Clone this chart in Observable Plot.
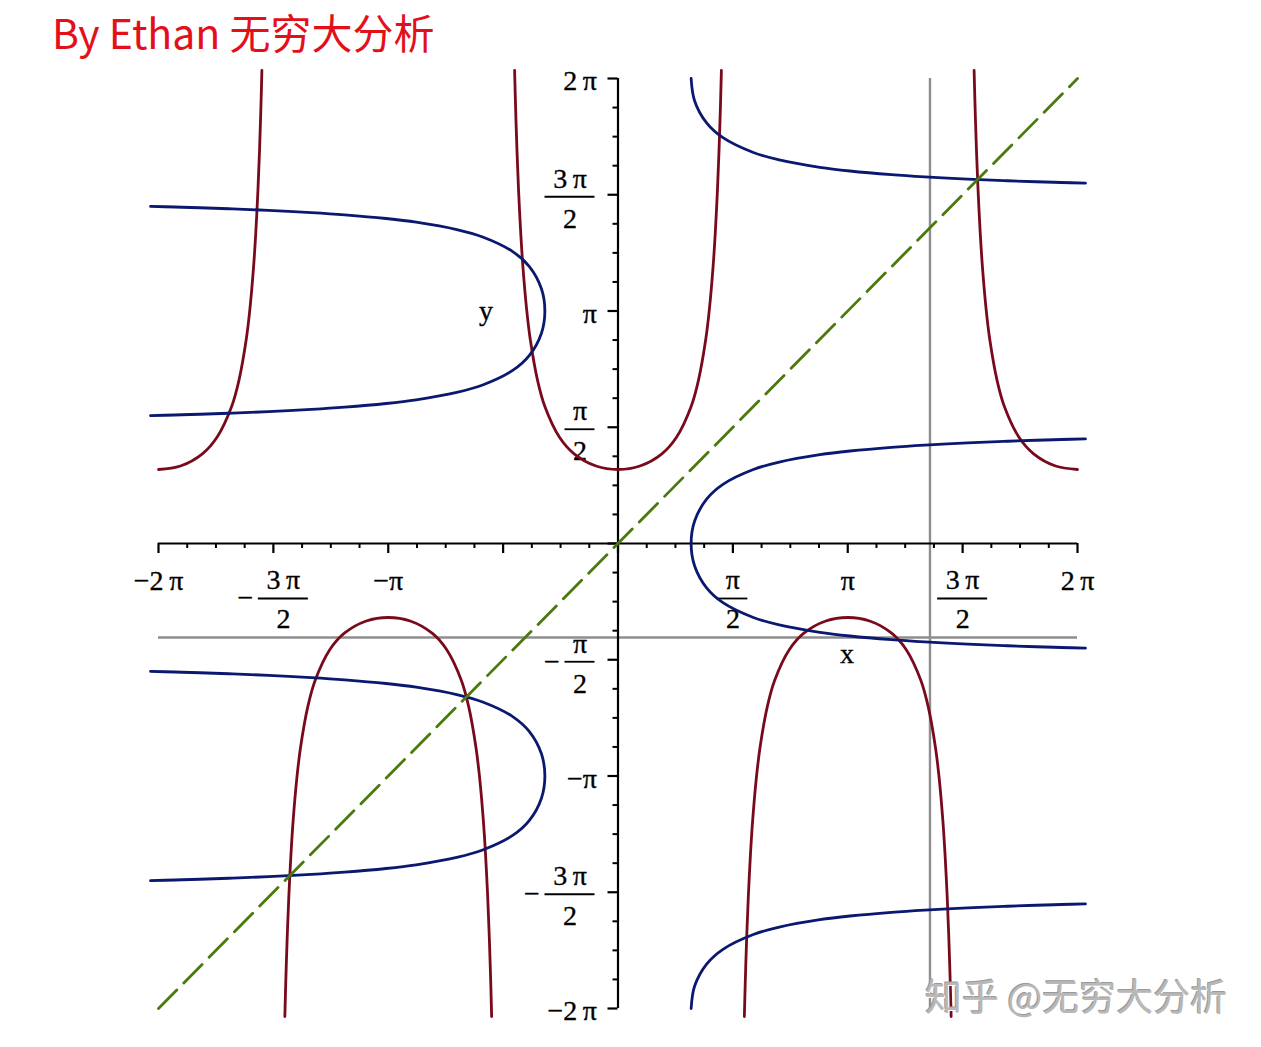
<!DOCTYPE html>
<html><head><meta charset="utf-8">
<script src="https://cdn.jsdelivr.net/npm/d3@7"></script>
<script src="https://cdn.jsdelivr.net/npm/@observablehq/plot@0.6"></script>
<style>
body{margin:0;background:#fff;}
#wrap{position:relative;width:1261px;height:1047px;overflow:hidden;background:#fff;}
#title{height:66px;box-sizing:border-box;padding:11px 0 0 52px;font:41px/1 "Noto Sans CJK SC",sans-serif;color:#e3101a;white-space:nowrap;}
#mark{position:absolute;left:925px;top:977px;font:37px/1 "Noto Sans CJK SC",sans-serif;color:#b8b8b8;white-space:nowrap;text-shadow:1px 1px 0 #fff,-1px -1px 0 #9a9a9a;}
</style></head><body>
<div id="wrap"><div id="title">By Ethan 无穷大分析</div><div id="chart"></div><div id="mark">知乎 @无穷大分析</div></div>
<script>
const PI = Math.PI;
// half profile of the branch y = sec(x) around its centre (offset from centre, value)
const profileOffset = [0, 0.3, 0.6, 0.8, 1.0, 1.1, 1.2, 1.25, 1.3, 1.33, 1.36, 1.38, 1.395, 1.405, 1.4137];
const profileValue  = [1, 1.0468, 1.2116, 1.4353, 1.8508, 2.2046, 2.7597, 3.1714, 3.7383, 4.1933, 4.7792, 5.2731, 5.7178, 6.0592, 6.3918];
// branch centres and signs of the curve y = sec(x)
const branchCenter = [-2*PI, -PI, 0, PI, 2*PI];
const branchSign   = [1, -1, 1, -1, 1];
// grey reference lines
const greyX = [4.266];
const greyY = [-1.27];
// diagonal y = x
const diagX = [-2*PI, 2*PI];
const diagY = [-2*PI, 2*PI];
// axis labels
const xLabelPos = [3.13, -1.49];
const yLabelPos = [-1.805, 3.135];
// tick labels
const xPlainTicks = [-2*PI, -PI, PI, 2*PI];
const xPlainText  = ["\u22122\u2009\u03c0", "\u2212\u03c0", "\u03c0", "2\u2009\u03c0"];
const xFracTicks  = [-3*PI/2, PI/2, 3*PI/2];
const xFracNum    = ["3\u2009\u03c0", "\u03c0", "3\u2009\u03c0"];
const xFracNeg    = [true, false, false];
const yPlainTicks = [2*PI, PI, -PI, -2*PI];
const yPlainText  = ["2\u2009\u03c0", "\u03c0", "\u2212\u03c0", "\u22122\u2009\u03c0"];
const yFracTicks  = [3*PI/2, PI/2, -PI/2, -3*PI/2];
const yFracNum    = ["3\u2009\u03c0", "\u03c0", "\u03c0", "3\u2009\u03c0"];
const yFracNeg    = [false, false, true, true];
const fracDen = "2";
const majorTicks = d3.range(-4, 5).map(k => k * PI / 2);
const minorTicks = d3.range(-16, 17).filter(k => k % 4 !== 0).map(k => k * PI / 8);

// build the curve table
const fullOff = [...profileOffset.slice(1).map(t => -t).reverse(), ...profileOffset];
const fullVal = [...profileValue.slice(1).reverse(), ...profileValue];
const red = [];
branchCenter.forEach((c, b) => {
  fullOff.forEach((t, i) => {
    const x = c + t;
    if (Math.abs(x) <= 2*PI + 1e-9) red.push({b, x, y: branchSign[b] * fullVal[i]});
  });
});
const blue = red.map(d => ({b: d.b, x: d.y, y: d.x}));

const FS = 28;
const txt = {fill: "black", fontSize: FS, stroke: "black", strokeWidth: 0.35};
function fracMarks(axis, value, num, neg) {
  const w = num.length > 1 ? 50 : 30;
  const m = [];
  if (axis === "x") {
    const c = neg ? 10 : 0;
    m.push(Plot.text([value], {x: d => d, y: 0, text: () => num, dx: c, dy: 37, textAnchor: "middle", ...txt}));
    m.push(Plot.ruleY([value], {y: 0, x1: d => d, x2: d => d, insetLeft: -(w/2 - c), insetRight: -(w/2 + c), dy: 55, stroke: "black", strokeWidth: 1.8}));
    m.push(Plot.text([value], {x: d => d, y: 0, text: () => fracDen, dx: c, dy: 76, textAnchor: "middle", ...txt}));
    if (neg) m.push(Plot.text([value], {x: d => d, y: 0, text: () => "\u2212", dx: c - w/2 - 13, dy: 55, textAnchor: "middle", ...txt}));
  } else {
    const c = -23 - w/2;
    m.push(Plot.text([value], {x: 0, y: d => d, text: () => num, dx: c, dy: -16, textAnchor: "middle", ...txt}));
    m.push(Plot.ruleY([value], {y: d => d, x1: 0, x2: 0, insetLeft: -(23 + w), insetRight: 23, dy: 2, stroke: "black", strokeWidth: 1.8}));
    m.push(Plot.text([value], {x: 0, y: d => d, text: () => fracDen, dx: c, dy: 24, textAnchor: "middle", ...txt}));
    if (neg) m.push(Plot.text([value], {x: 0, y: d => d, text: () => "\u2212", dx: -23 - w - 13, dy: 2, textAnchor: "middle", ...txt}));
  }
  return m;
}

const chart = Plot.plot({
  width: 1261, height: 981,
  marginLeft: 158, marginRight: 184, marginTop: 12, marginBottom: 39,
  x: {type: "linear", domain: [-2*PI, 2*PI], axis: null},
  y: {type: "linear", domain: [-2*PI, 2*PI], axis: null},
  style: {fontFamily: "'Liberation Serif','Times New Roman',serif", background: "white", overflow: "visible"},
  marks: [
    // grey lines
    Plot.ruleX(greyX, {x: d => d, y1: -2*PI, y2: 2*PI, stroke: "#8e8e8e", strokeWidth: 2.4}),
    Plot.ruleY(greyY, {y: d => d, x1: -2*PI, x2: 2*PI, stroke: "#8e8e8e", strokeWidth: 2.4}),
    // axes
    Plot.ruleY([0], {y: d => d, x1: -2*PI, x2: 2*PI, stroke: "black", strokeWidth: 2.2}),
    Plot.ruleX([0], {x: d => d, y1: -2*PI, y2: 2*PI, stroke: "black", strokeWidth: 2.2}),
    Plot.ruleX(majorTicks, {x: d => d, y1: 0, y2: 0, insetTop: 0, insetBottom: -10, stroke: "black", strokeWidth: 2.2}),
    Plot.ruleX(minorTicks, {x: d => d, y1: 0, y2: 0, insetTop: 0, insetBottom: -5, stroke: "black", strokeWidth: 2}),
    Plot.ruleY(majorTicks, {y: d => d, x1: 0, x2: 0, insetLeft: -10, insetRight: 0, stroke: "black", strokeWidth: 2.2}),
    Plot.ruleY(minorTicks, {y: d => d, x1: 0, x2: 0, insetLeft: -5, insetRight: 0, stroke: "black", strokeWidth: 2}),
    // tick labels
    Plot.text(xPlainTicks, {x: d => d, y: 0, text: (d, i) => xPlainText[i], dy: 38, textAnchor: "middle", ...txt}),
    Plot.text(yPlainTicks, {x: 0, y: d => d, text: (d, i) => yPlainText[i], dx: -21, dy: 3, textAnchor: "end", ...txt}),
    ...xFracTicks.flatMap((v, i) => fracMarks("x", v, xFracNum[i], xFracNeg[i])),
    ...yFracTicks.flatMap((v, i) => fracMarks("y", v, yFracNum[i], yFracNeg[i])),
    // axis names
    Plot.text([xLabelPos], {x: d => d[0], y: d => d[1], text: () => "x", textAnchor: "middle", ...txt}),
    Plot.text([yLabelPos], {x: d => d[0], y: d => d[1], text: () => "y", textAnchor: "middle", ...txt}),
    // curves
    Plot.line(red, {x: "x", y: "y", z: "b", stroke: "#780a1c", strokeWidth: 2.8, curve: "catmull-rom"}),
    Plot.line(blue, {x: "x", y: "y", z: "b", stroke: "#0a1870", strokeWidth: 2.8, curve: "catmull-rom"}),
    Plot.line(diagX.map((x, i) => [x, diagY[i]]), {x: d => d[0], y: d => d[1], stroke: "#4a7a0c", strokeWidth: 2.8, strokeDasharray: "26,10"})
  ]
});
document.getElementById("chart").appendChild(chart);
</script>
</body></html>
